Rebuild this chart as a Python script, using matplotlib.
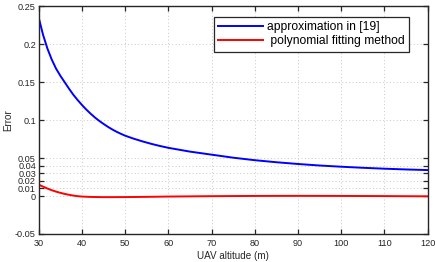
import matplotlib
matplotlib.use("Agg")
import matplotlib.pyplot as plt

plt.rcParams['font.family'] = ['Liberation Sans', 'DejaVu Sans']

# UAV altitude (m)
altitude_blue = [30, 31, 32, 33, 34, 35, 36, 37, 38, 39, 40, 41, 42, 43, 44,
                 45, 46, 47, 48, 49, 50, 52, 54, 56, 58, 60, 65, 70, 75, 80,
                 85, 90, 95, 100, 105, 110, 115, 120]
error_blue = [0.235, 0.2125, 0.1945, 0.180, 0.168, 0.1585, 0.150, 0.1415,
              0.1335, 0.1265, 0.1200, 0.1140, 0.1085, 0.1035, 0.0990, 0.0950,
              0.0912, 0.0878, 0.0847, 0.0820, 0.0795, 0.0755, 0.0720, 0.0688,
              0.0660, 0.0635, 0.0585, 0.0545, 0.0505, 0.0472, 0.0445, 0.0422,
              0.0402, 0.0386, 0.0372, 0.0360, 0.0350, 0.0342]

altitude_red = [30, 31, 32, 33, 34, 35, 36, 37, 38, 39, 40, 42, 45, 50, 55,
                60, 70, 80, 90, 100, 110, 120]
error_red = [0.015, 0.0124, 0.0099, 0.0077, 0.0058, 0.0042, 0.0028, 0.0016,
             0.0006, -0.0002, -0.0007, -0.0012, -0.0015, -0.0014, -0.0011,
             -0.0007, -0.0002, 0.0001, 0.0002, 0.0001, -0.0001, -0.0004]

label_blue = "approximation in [19]"
label_red = " polynomial fitting method"

xticks = [30, 40, 50, 60, 70, 80, 90, 100, 110, 120]
yticks = [-0.05, 0, 0.01, 0.02, 0.03, 0.04, 0.05, 0.1, 0.15, 0.2, 0.25]
ytick_labels = ["-0.05", "0", "0.01", "0.02", "0.03", "0.04", "0.05",
                "0.1", "0.15", "0.2", "0.25"]

fig = plt.figure(figsize=(4.36, 2.62), dpi=100)
ax = fig.add_axes([0.0888, 0.107, 0.8922, 0.869])

ax.plot(altitude_blue, error_blue, color=(0, 0, 1), lw=1.4, label=label_blue)
ax.plot(altitude_red, error_red, color=(1, 0, 0), lw=1.4, label=label_red)

ax.set_xlim(30, 120)
ax.set_ylim(-0.05, 0.25)
ax.set_xticks(xticks)
ax.set_xticklabels([str(t) for t in xticks])
ax.set_yticks(yticks)
ax.set_yticklabels(ytick_labels)

ax.grid(True, linestyle=(0, (1, 2.5)), color='#c8c8c8', lw=0.7)
ax.tick_params(direction='in', top=True, right=True, length=3.5, width=0.9,
               labelsize=6.6, colors='#262626', pad=2)
ax.tick_params(axis='x', pad=3.5)
for s in ax.spines.values():
    s.set_linewidth(1.0)
    s.set_color('#262626')

ax.set_xlabel("UAV altitude (m)", fontsize=7.1, color='#262626', labelpad=2)
ax.set_ylabel("Error", fontsize=7.1, color='#262626', labelpad=1.5)

leg = ax.legend(loc='upper right', bbox_to_anchor=(0.952, 0.954),
                borderaxespad=0, fontsize=8.7, frameon=True, fancybox=False,
                edgecolor='#262626', handlelength=3.7, handletextpad=0.35,
                labelspacing=0.2, borderpad=0.35)
leg.get_frame().set_linewidth(0.9)
leg.get_frame().set_alpha(1)

fig.savefig("out.png", dpi=100)
